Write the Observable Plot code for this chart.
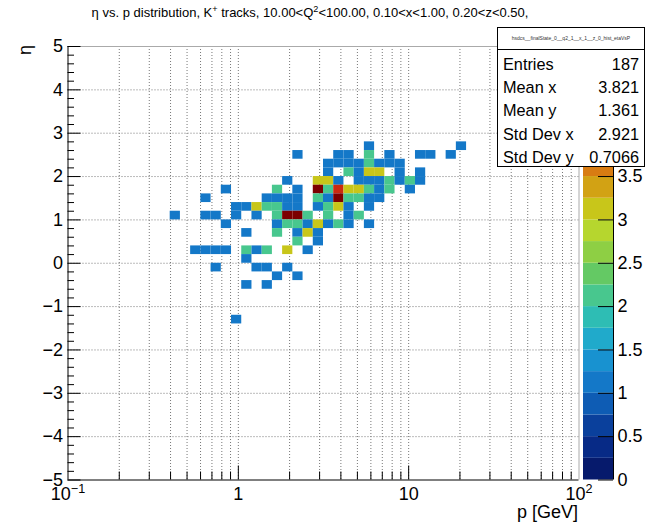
<!DOCTYPE html>
<html>
<head>
<meta charset="utf-8">
<script src="https://cdn.jsdelivr.net/npm/d3@7"></script>
<script src="https://cdn.jsdelivr.net/npm/@observablehq/plot@0.6"></script>
<style>
  body { margin: 0; background: #fff; }
  #wrap { position: relative; width: 647px; height: 526px; overflow: hidden; background: #fff;
          font-family: "Liberation Sans", Arial, Helvetica, sans-serif; color: #000; }
  #wrap svg { position: absolute; top: 0; }
  .abs { position: absolute; white-space: nowrap; }
  #title { left: 310px; top: 6px; font-size: 13px; line-height: 13px; transform: translateX(-50%); }
  #title sup { font-size: 70%; vertical-align: 0; position: relative; top: -5px; line-height: 0; }
  #ytitle { left: 25px; top: 50px; font-size: 18px; line-height: 18px; transform: translate(-50%, -50%) rotate(-90deg); }
  #xtitle { right: 69px; top: 503px; font-size: 18px; line-height: 18px; }
  #stats { left: 497px; top: 27px; width: 146px; height: 138px; border: 1px solid #000; background: #fff; }
  #stats .hdr { height: 21px; border-bottom: 1px solid #000; font-size: 5px; line-height: 21px; text-align: center; color: #333; }
  #stats .row { height: 23.2px; line-height: 23.2px; font-size: 16.3px; padding: 3px 5px 0 5px; margin-bottom: -3px; display: flex; justify-content: space-between; }
</style>
</head>
<body>
<div id="wrap">
  <div class="abs" id="title">η vs. p distribution, K<sup>+</sup> tracks, 10.00&lt;Q<sup>2</sup>&lt;100.00, 0.10&lt;x&lt;1.00, 0.20&lt;z&lt;0.50,</div>
</div>
<script>
// ---- histogram definition (50 log bins in p over 0.1..100, 50 bins in eta over -5..5)
const pRange = [0.1, 100];
const etaRange = [-5, 5];
const nBinsP = 50;
const nBinsEta = 50;

// ---- filled cells: p-bin index, eta-bin index, bin content
const cellPBin = [
  29,38,
  22,26,27,29,31,34,35,37,
  25,26,27,28,29,30,31,32,
  25,27,28,29,30,32,34,
  21,24,25,26,28,29,30,31,32,33,34,
  15,20,22,24,25,26,27,28,29,30,31,33,
  13,19,20,21,22,24,25,26,27,28,29,30,
  16,17,18,19,20,21,22,24,25,26,27,29,
  10,13,14,16,18,20,21,22,23,25,27,28,
  15,20,21,22,23,24,25,26,27,29,
  17,20,22,23,24,
  22,24,
  12,13,14,15,17,18,19,21,23,
  17,
  14,18,19,21,
  20,22,
  17,19,
  16
];
const cellEtaBin = [
  38,38,
  37,37,37,37,37,37,37,37,
  36,36,36,36,36,36,36,36,
  35,35,35,35,35,35,35,
  34,34,34,34,34,34,34,34,34,34,34,
  33,33,33,33,33,33,33,33,33,33,33,33,
  32,32,32,32,32,32,32,32,32,32,32,32,
  31,31,31,31,31,31,31,31,31,31,31,31,
  30,30,30,30,30,30,30,30,30,30,30,30,
  29,29,29,29,29,29,29,29,29,29,
  28,28,28,28,28,
  27,27,
  26,26,26,26,26,26,26,26,26,
  25,
  24,24,24,24,
  23,23,
  22,22,
  18
];
const cellCount = [
  1,1,
  1,1,1,2,1,1,1,1,
  1,1,1,1,2,1,1,1,
  1,2,1,3,3,1,1,
  1,3,3,1,1,1,1,2,1,2,1,
  1,2,1,5,2,4,3,3,2,1,2,1,
  1,1,1,1,1,2,1,5,2,2,1,1,
  1,1,3,2,2,1,1,1,2,3,1,1,
  1,1,1,1,1,2,5,5,2,2,1,2,
  1,1,2,2,1,3,1,2,1,1,
  1,2,1,3,1,
  2,1,
  1,1,1,1,2,1,2,3,1,
  1,
  1,1,1,1,
  1,1,
  1,1,
  1
];

// ---- palette (20 contour levels, z from 0 to 5)
const contourLevels = [0,0.25,0.5,0.75,1,1.25,1.5,1.75,2,2.25,2.5,2.75,3,3.25,3.5,3.75,4,4.25,4.5,4.75];
const zMax = 5;
const paletteColors = [
  "#061a6c","#072a86","#0a409c","#0e5cb4","#1478c8","#1892d0","#20aacb","#2ebdb4",
  "#48c78e","#64c964","#8ecf44","#b6d62e","#c8c61a","#d2a214","#d87c12","#d6521a",
  "#cc2a10","#b01608","#940802","#7c0000"
];

// ---- axes ticks / labels
const pMajorTicks = [1, 10];
const pMinorTicks = [0.2,0.3,0.4,0.5,0.6,0.7,0.8,0.9, 2,3,4,5,6,7,8,9, 20,30,40,50,60,70,80,90];
const pLabelValues = [0.1, 1, 10, 100];
const pLabelBase = ["10", "1", "10", "10"];
const pLabelExp = ["\u22121", "", "", "2"];
const etaMajorTicks = [-5,-4,-3,-2,-1,0,1,2,3,4,5];
const etaGrid = [-4,-3,-2,-1,0,1,2,3,4];
const zTicks = [0,0.5,1,1.5,2,2.5,3,3.5,4,4.5,5];
const zTickLabels = [0,0.5,1,1.5,2,2.5,3,3.5]; // the rest are hidden behind the stats box

// ---- stats box
const statLabels = ["Entries", "Mean x", "Mean y", "Std Dev x", "Std Dev y"];
const statValues = ["187", "3.821", "1.361", "2.921", "0.7066"];
const histName = "hsdcs__finalState_0__q2_1__x_1__z_0_hist_etaVsP";

// ---- build cells from bins
const lp0 = Math.log10(pRange[0]), lp1 = Math.log10(pRange[1]);
const dlp = (lp1 - lp0) / nBinsP;
const deta = (etaRange[1] - etaRange[0]) / nBinsEta;
const cells = cellPBin.map((ip, k) => ({
  p1: Math.pow(10, lp0 + ip * dlp),
  p2: Math.pow(10, lp0 + (ip + 1) * dlp),
  e1: etaRange[0] + cellEtaBin[k] * deta,
  e2: etaRange[0] + (cellEtaBin[k] + 1) * deta,
  n: cellCount[k]
}));

const W = 647, H = 526;
const fx0 = 67.5, fx1 = 578.5, fy0 = 46, fy1 = 479.5;
const frameW = fx1 - fx0, frameH = fy1 - fy0;
const font = '"Liberation Sans", Arial, Helvetica, sans-serif';
const colorScale = {type: "threshold", domain: contourLevels.slice(1), range: paletteColors};

// x tick label marks (base + exponent, centered as a whole)
const baseW = 20.0; // width of "10" at 18px
const expWidths = {"\u22121": 14.4, "2": 7.0, "": 0};
const labelMarks = [];
pLabelValues.forEach((v, i) => {
  const e = pLabelExp[i];
  if (!e) {
    labelMarks.push(Plot.text([v], {x: d => d, frameAnchor: "bottom", text: () => pLabelBase[i],
      dy: 19.5, fontSize: 18, textAnchor: "middle"}));
  } else {
    const ew = expWidths[e];
    const off = (baseW - ew) / 2;
    labelMarks.push(Plot.text([v], {x: d => d, frameAnchor: "bottom", text: () => pLabelBase[i],
      dy: 19.5, dx: off, fontSize: 18, textAnchor: "end"}));
    labelMarks.push(Plot.text([v], {x: d => d, frameAnchor: "bottom", text: () => e,
      dy: 13, dx: off, fontSize: 12.6, textAnchor: "start"}));
  }
});

const main = Plot.plot({
  width: W, height: H,
  marginLeft: fx0, marginRight: W - fx1, marginTop: fy0, marginBottom: H - fy1,
  style: {fontFamily: font, fontSize: "18px", background: "transparent", color: "#000", overflow: "visible"},
  x: {type: "log", domain: pRange, axis: null},
  y: {domain: etaRange, axis: null},
  color: colorScale,
  marks: [
    Plot.ruleX(pMajorTicks.concat(pMinorTicks), {stroke: "#777", strokeDasharray: "1,2"}),
    Plot.ruleY(etaGrid, {stroke: "#777", strokeDasharray: "1,2"}),
    Plot.rect(cells, {x1: "p1", x2: "p2", y1: "e1", y2: "e2", fill: "n"}),
    Plot.ruleY([etaRange[1]], {stroke: "#aaa"}),
    Plot.ruleX([pRange[1]], {stroke: "#aaa"}),
    Plot.ruleX([pRange[0]], {stroke: "#000"}),
    Plot.ruleY([etaRange[0]], {stroke: "#000"}),
    Plot.ruleX(pMajorTicks, {stroke: "#000", insetTop: frameH - 14}),
    Plot.ruleX(pMinorTicks, {stroke: "#000", insetTop: frameH - 8}),
    Plot.ruleY(etaMajorTicks, {stroke: "#000", insetRight: frameW - 13}),
    Plot.ruleY(d3.range(-4.8, 5, 0.2).map(v => +v.toFixed(1)).filter(v => Math.abs(v - Math.round(v)) > 1e-6),
      {stroke: "#000", insetRight: frameW - 6.5}),
    Plot.axisY({ticks: etaMajorTicks, tickSize: 0, tickPadding: 5, fontSize: 18, label: null,
      tickFormat: d => d < 0 ? "\u2212" + Math.abs(d) : String(d)}),
    ...labelMarks
  ]
});
main.style.left = "0px";
document.getElementById("wrap").appendChild(main);

// ---- colour bar (palette axis)
const cbLeft = 583, cbWidth = 30;
const cbar = Plot.plot({
  width: W - cbLeft, height: H,
  marginLeft: 0, marginRight: W - cbLeft - cbWidth, marginTop: fy0, marginBottom: H - fy1,
  style: {fontFamily: font, fontSize: "18px", background: "transparent", color: "#000", overflow: "visible"},
  x: {domain: [0, 1], axis: null},
  y: {domain: [0, zMax], axis: null},
  color: colorScale,
  marks: [
    Plot.rect(contourLevels, {x1: 0, x2: 1, y1: d => d, y2: d => d + (zMax / contourLevels.length), fill: d => d}),
    Plot.ruleX([1], {stroke: "#000"}),
    Plot.ruleY(zTicks, {x1: 0.5, x2: 1, stroke: "#000"}),
    Plot.text(zTickLabels, {x: 1, y: d => d, dx: 4, text: d => String(d), textAnchor: "start", fontSize: 18})
  ]
});
cbar.style.left = cbLeft + "px";
document.getElementById("wrap").appendChild(cbar);

// ---- html texts
const wrap = document.getElementById("wrap");
const yt = document.createElement("div"); yt.className = "abs"; yt.id = "ytitle"; yt.textContent = "η"; wrap.appendChild(yt);
const xt = document.createElement("div"); xt.className = "abs"; xt.id = "xtitle"; xt.textContent = "p [GeV]"; wrap.appendChild(xt);
const st = document.createElement("div"); st.className = "abs"; st.id = "stats";
const hdr = document.createElement("div"); hdr.className = "hdr"; hdr.textContent = histName; st.appendChild(hdr);
statLabels.forEach((l, i) => {
  const r = document.createElement("div"); r.className = "row";
  const a = document.createElement("span"); a.textContent = l;
  const b = document.createElement("span"); b.textContent = statValues[i];
  r.appendChild(a); r.appendChild(b); st.appendChild(r);
});
wrap.appendChild(st);
wrap.appendChild(document.getElementById("title"));
</script>
</body>
</html>
